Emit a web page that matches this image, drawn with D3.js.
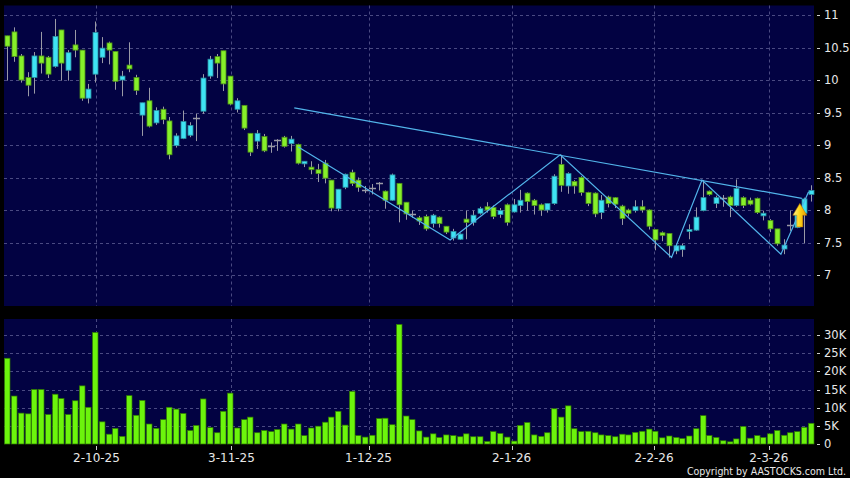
<!DOCTYPE html>
<html><head><meta charset="utf-8">
<script src="https://cdn.jsdelivr.net/npm/d3@7/dist/d3.min.js"></script>
<style>html,body{margin:0;padding:0;background:#000;}svg{display:block;}</style>
</head><body><svg id="chart" width="850" height="478"></svg>
<script>
// ---------- DATA ----------
const openP  = [10.68,10.74,10.37,10.04,10.04,10.37,10.35,10.21,10.77,10.15,10.54,10.46,9.72,10.09,10.35,10.57,10.44,10.00,10.23,10.04,
                9.46,9.68,9.34,9.55,9.37,8.99,9.10,9.15,9.41,9.52,10.06,10.36,10.45,10.06,9.55,9.61,9.18,9.06,9.13,8.98,
                9.07,9.12,9.02,9.01,8.71,8.66,8.62,8.72,8.46,8.02,8.35,8.58,8.46,8.31,8.34,8.41,8.29,8.15,8.41,8.12,
                7.94,7.88,7.90,7.79,7.89,7.75,7.57,7.55,7.86,7.81,7.95,8.05,8.04,7.93,8.08,7.97,8.07,8.26,8.15,8.08,
                8.00,8.10,8.70,8.37,8.44,8.50,8.27,8.26,7.96,8.20,8.19,8.06,8.00,7.99,8.05,8.00,7.70,7.65,7.64,7.37,
                7.39,7.67,7.69,7.99,8.29,8.10,8.18,8.20,8.07,8.19,8.15,8.18,7.91,7.84,7.71,7.40,7.77,7.73,7.95,8.24];
const highP  = [10.68,10.81,10.40,10.12,10.43,10.74,10.37,10.94,10.77,10.46,10.77,10.46,9.94,10.90,10.66,10.59,10.44,10.14,10.58,10.08,
                9.65,9.88,9.58,9.59,9.43,9.18,9.53,9.35,9.48,10.09,10.37,10.40,10.45,10.06,9.72,9.61,9.18,9.23,9.17,9.04,
                9.09,9.14,9.14,9.02,8.75,8.75,8.71,8.77,8.46,8.32,8.56,8.62,8.50,8.37,8.40,8.43,8.30,8.56,8.41,8.12,
                7.99,7.91,7.93,7.94,7.90,7.75,7.71,7.64,7.99,7.99,8.05,8.12,8.07,8.03,8.10,8.17,8.31,8.27,8.17,8.10,
                8.10,8.55,8.85,8.58,8.46,8.52,8.28,8.27,8.23,8.22,8.20,8.08,8.02,8.15,8.15,8.01,7.70,7.67,7.64,7.48,
                7.48,7.78,8.04,8.46,8.30,8.22,8.23,8.22,8.47,8.21,8.19,8.19,7.99,7.86,7.71,7.55,7.99,7.96,8.19,8.38];
const lowP   = [9.99,10.28,9.96,9.75,9.79,10.10,10.03,10.19,9.99,9.99,10.35,9.68,9.64,9.96,10.26,10.24,9.85,9.75,10.12,9.77,
                9.14,9.27,9.31,9.32,8.78,8.96,9.09,9.12,9.06,9.48,10.02,10.03,9.83,9.61,9.50,9.23,8.83,8.94,8.89,8.88,
                8.91,8.96,8.90,8.70,8.66,8.55,8.43,8.41,7.98,7.98,8.32,8.37,8.28,8.26,8.24,8.30,8.02,8.14,7.81,7.85,
                7.88,7.77,7.68,7.73,7.73,7.63,7.53,7.54,7.55,7.76,7.93,7.96,7.86,7.88,7.76,7.96,7.96,7.99,7.93,7.91,
                7.96,8.08,8.28,8.25,8.25,8.22,8.06,7.89,7.86,8.04,8.03,7.77,7.90,7.96,7.96,7.70,7.38,7.52,7.27,7.32,
                7.28,7.55,7.68,7.98,8.22,8.03,8.05,7.89,8.05,8.03,8.07,7.94,7.84,7.66,7.45,7.32,7.68,7.72,7.49,8.13];
const closeP = [10.52,10.36,10.00,9.92,10.37,10.26,10.09,10.67,10.26,10.42,10.46,9.72,9.86,10.73,10.49,10.46,9.98,10.06,10.17,9.84,
                9.65,9.29,9.53,9.39,8.85,9.14,9.36,9.30,9.41,10.03,10.32,10.26,9.94,9.63,9.68,9.26,8.89,9.18,8.91,8.98,
                9.07,8.98,9.09,8.72,8.75,8.62,8.56,8.49,8.03,8.32,8.55,8.41,8.35,8.31,8.34,8.41,8.15,8.54,8.08,7.94,
                7.94,7.83,7.71,7.92,7.79,7.66,7.67,7.63,7.81,7.92,8.02,8.00,7.90,7.99,7.81,8.08,8.15,8.13,8.07,8.00,
                8.10,8.52,8.38,8.56,8.37,8.27,8.10,7.94,8.15,8.10,8.09,7.87,7.95,8.05,8.00,7.75,7.54,7.61,7.45,7.45,
                7.45,7.70,7.89,8.19,8.24,8.19,8.18,8.07,8.33,8.07,8.09,7.96,7.95,7.71,7.48,7.46,7.77,7.93,8.17,8.30];
const volumeK = [23.6,13.2,8.5,8.3,15.0,15.0,8.1,13.7,12.5,8.1,11.9,16.0,10.1,30.7,6.1,2.7,4.3,2.1,13.3,7.9,
                 12.0,5.5,4.3,6.7,10.1,9.6,8.4,3.7,5.1,12.4,4.5,3.1,9.0,14.0,4.4,6.7,7.4,3.1,3.7,3.4,
                 4.0,5.5,4.1,5.5,2.3,4.4,4.9,6.0,7.4,9.0,5.2,14.5,2.3,1.9,2.4,7.0,7.1,5.3,32.9,7.7,
                 6.7,3.6,1.9,2.8,1.8,2.5,2.3,2.0,2.8,2.0,2.0,0.7,3.4,2.9,1.9,0.8,5.1,5.9,2.5,2.1,
                 3.1,9.7,7.4,10.5,4.2,3.4,3.5,3.1,2.5,2.3,2.0,2.7,2.5,3.2,3.5,4.1,3.5,1.7,2.2,1.8,
                 1.5,2.2,4.2,7.8,2.3,1.8,0.9,0.6,1.4,4.8,1.6,2.3,1.8,2.8,3.7,2.4,3.1,3.4,4.6,5.7];
const priceTicks = [7,7.5,8,8.5,9,9.5,10,10.5,11];
const priceTickLabels = ["7","7.5","8","8.5","9","9.5","10","10.5","11"];
const volTicks = [0,5,10,15,20,25,30];
const volTickLabels = ["0","5K","10K","15K","20K","25K","30K"];
const dateTickIndex = [13.2,33.2,53.5,74.7,95.8,112.8];
const dateTickLabels = ["2-10-25","3-11-25","1-12-25","2-1-26","2-2-26","2-3-26"];
const trendLine = [[42.5,9.57],[117.7,8.18]];
const zigzag = [[43.1,8.97],[65.6,7.54],[81.9,8.85],[98.4,7.27],[102.9,8.46],[114.6,7.32],[118.7,8.28]];
const signalArrow = {index:117.4, top:8.10, headBase:7.92, bottom:7.74};
const copyright = "Copyright by AASTOCKS.com Ltd.";

// ---------- CHART ----------
const svg = d3.select("#chart");
const n = openP.length;
const x = d3.scaleLinear().domain([-0.5, n-0.5]).range([4, 814]);
const yP = d3.scaleLinear().domain([7, 11]).range([275, 15]);
const yV = d3.scaleLinear().domain([0, 30]).range([444, 335]);
const font = "'DejaVu Sans', Verdana, sans-serif";
const condFont = "'DejaVu Sans Condensed', 'DejaVu Sans', sans-serif";
const gridCol = "#4a4a82";

svg.append("rect").attr("width",850).attr("height",478).attr("fill","#000");
// panels
svg.append("rect").attr("x",4).attr("y",5.5).attr("width",810).attr("height",300.5).attr("fill","#020242");
svg.append("rect").attr("x",4).attr("y",319).attr("width",810).attr("height",125).attr("fill","#020242");

// grids
const gMain = svg.append("g");
gMain.selectAll("line.h").data(priceTicks).join("line")
  .attr("x1",4).attr("x2",814).attr("y1",d=>Math.round(yP(d))+0.5).attr("y2",d=>Math.round(yP(d))+0.5)
  .attr("stroke",gridCol).attr("stroke-dasharray","3,3");
gMain.selectAll("line.v").data(dateTickIndex).join("line")
  .attr("x1",d=>Math.round(x(d))+0.5).attr("x2",d=>Math.round(x(d))+0.5).attr("y1",5.5).attr("y2",306)
  .attr("stroke",gridCol).attr("stroke-dasharray","3,3");
const gVolGrid = svg.append("g");
gVolGrid.selectAll("line.h").data(volTicks.slice(1)).join("line")
  .attr("x1",4).attr("x2",814).attr("y1",d=>Math.round(yV(d))+0.5).attr("y2",d=>Math.round(yV(d))+0.5)
  .attr("stroke",gridCol).attr("stroke-dasharray","3,3");
gVolGrid.selectAll("line.v").data(dateTickIndex).join("line")
  .attr("x1",d=>Math.round(x(d))+0.5).attr("x2",d=>Math.round(x(d))+0.5).attr("y1",319).attr("y2",444)
  .attr("stroke",gridCol).attr("stroke-dasharray","3,3");

// candles
const idx = d3.range(n);
const cw = 5;
const gC = svg.append("g");
gC.selectAll("line.wick").data(idx).join("line")
  .attr("x1",i=>Math.round(x(i))+0.5).attr("x2",i=>Math.round(x(i))+0.5)
  .attr("y1",i=>yP(highP[i])).attr("y2",i=>yP(lowP[i]))
  .attr("stroke","#9a9aa6").attr("stroke-width",1);
gC.selectAll("rect.body").data(idx.filter(i=>openP[i]!==closeP[i])).join("rect")
  .attr("x",i=>Math.round(x(i))-2).attr("width",cw)
  .attr("y",i=>yP(Math.max(openP[i],closeP[i])))
  .attr("height",i=>Math.max(1,Math.abs(yP(openP[i])-yP(closeP[i]))))
  .attr("fill",i=>closeP[i]>openP[i]?"#3fe3f4":"#86f02a")
  .attr("stroke",i=>closeP[i]>openP[i]?"#2a8fa0":"#4d8f18").attr("stroke-width",0.8);
gC.selectAll("line.doji").data(idx.filter(i=>openP[i]===closeP[i])).join("line")
  .attr("x1",i=>Math.round(x(i))-3).attr("x2",i=>Math.round(x(i))+4)
  .attr("y1",i=>Math.round(yP(openP[i]))+0.5).attr("y2",i=>Math.round(yP(openP[i]))+0.5)
  .attr("stroke","#9a9aa6").attr("stroke-width",1.5);

// lines
const line = d3.line().x(d=>x(d[0])).y(d=>yP(d[1]));
svg.append("path").attr("d",line(trendLine)).attr("fill","none").attr("stroke","#52b4ea").attr("stroke-width",1.2);
svg.append("path").attr("d",line(zigzag)).attr("fill","none").attr("stroke","#52b4ea").attr("stroke-width",1.2);

// arrow
const defs = svg.append("defs");
const grad = defs.append("linearGradient").attr("id","ag").attr("x1","0").attr("x2","1").attr("y1","0").attr("y2","0");
grad.append("stop").attr("offset","0").attr("stop-color","#fff59a");
grad.append("stop").attr("offset","0.45").attr("stop-color","#ffd81a");
grad.append("stop").attr("offset","1").attr("stop-color","#e89a00");
const ax = x(signalArrow.index), at = yP(signalArrow.top), ah = yP(signalArrow.headBase), ab = yP(signalArrow.bottom);
svg.append("path")
  .attr("d",`M${ax},${at} L${ax+7},${ah} L${ax+3},${ah} L${ax+3},${ab} L${ax-3},${ab} L${ax-3},${ah} L${ax-7},${ah} Z`)
  .attr("fill","url(#ag)").attr("stroke","#c07800").attr("stroke-width",0.6);

// volume bars
svg.append("g").selectAll("rect").data(idx).join("rect")
  .attr("x",i=>Math.round(x(i))-2.5).attr("width",5.5)
  .attr("y",i=>yV(volumeK[i])).attr("height",i=>yV(0)-yV(volumeK[i]))
  .attr("fill","#6cf40c").attr("stroke","#2f7a00").attr("stroke-width",0.7);

// right axes
const txtCol = "#e8e8e8";
const gA = svg.append("g").attr("font-family",font).attr("font-size",11.5).attr("fill",txtCol);
gA.selectAll("line.pt").data(priceTicks).join("line")
  .attr("x1",817).attr("x2",820).attr("y1",d=>Math.round(yP(d))+0.5).attr("y2",d=>Math.round(yP(d))+0.5)
  .attr("stroke","#cccccc");
gA.selectAll("text.pt").data(priceTicks).join("text")
  .attr("x",824).attr("y",d=>yP(d)).attr("dy","0.36em").text((d,i)=>priceTickLabels[i]);
gA.selectAll("line.vt").data(volTicks).join("line")
  .attr("x1",817).attr("x2",820).attr("y1",d=>Math.round(yV(d))+0.5).attr("y2",d=>Math.round(yV(d))+0.5)
  .attr("stroke","#cccccc");
gA.selectAll("text.vt").data(volTicks).join("text")
  .attr("x",824).attr("y",d=>yV(d)).attr("dy","0.36em").text((d,i)=>volTickLabels[i]);

// date axis
const gD = svg.append("g").attr("font-family",font).attr("font-size",12).attr("fill",txtCol);
gD.selectAll("line.dt").data(dateTickIndex).join("line")
  .attr("x1",d=>Math.round(x(d))+0.5).attr("x2",d=>Math.round(x(d))+0.5).attr("y1",446).attr("y2",450)
  .attr("stroke","#cccccc");
gD.selectAll("text.dt").data(dateTickIndex).join("text")
  .attr("x",d=>x(d)).attr("y",462).attr("text-anchor","middle").text((d,i)=>dateTickLabels[i]);

svg.append("text").attr("x",846).attr("y",475).attr("text-anchor","end")
  .attr("font-family",condFont).attr("font-size",10.5).attr("fill",txtCol).text(copyright);
</script></body></html>
